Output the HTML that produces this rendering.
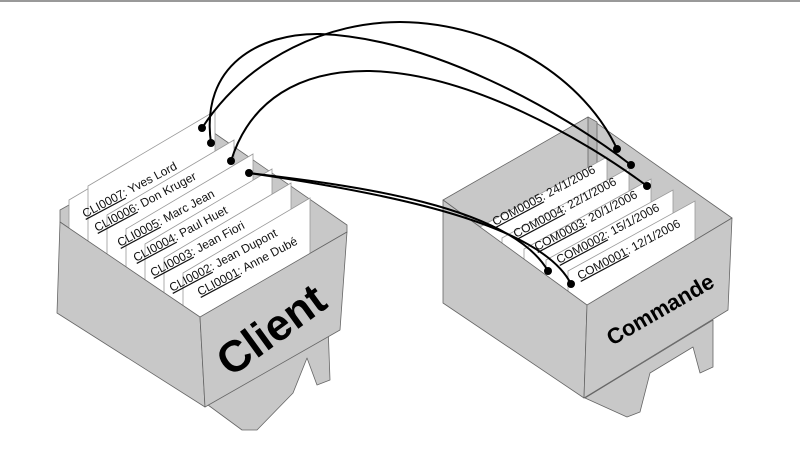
<!DOCTYPE html>
<html><head><meta charset="utf-8"><style>
html,body{margin:0;padding:0;background:#fff;width:800px;height:466px;overflow:hidden}
svg{display:block}
.t{font-family:"Liberation Sans",sans-serif;font-size:12px;fill:#111}
.u{text-decoration:underline}
</style></head><body>
<svg width="800" height="466" viewBox="0 0 800 466" xmlns="http://www.w3.org/2000/svg">
<line x1="0" y1="1" x2="800" y2="1" stroke="#999" stroke-width="2"/>
<g stroke="#666" stroke-width="0.8" stroke-linejoin="round">
<polygon points="208,405 242,430 257,430 293,393 307,358 317,385 330,380 328,325" fill="#c8c8c8"/>
<polygon points="60,222 60,210 207,128 347,225 347,232 200,317" fill="#c8c8c8"/>
</g>
<g stroke="#999" stroke-width="0.8" fill="#fff">
<polygon points="69,200 196,125 196,240 69,315"/>
<polygon points="88,186 215,111 215,250 88,330"/>
<polygon points="107,215 234,140 234,300 107,340"/>
<polygon points="126,229 253,154 253,300 126,340"/>
<polygon points="145,244 272,169 272,310 145,350"/>
<polygon points="164,258 291,183 291,320 164,360"/>
<polygon points="183,273 310,198 310,320 183,360"/>
</g>
<g class="t">
<text transform="translate(85,218) rotate(-28)"><tspan class="u">CLI0007</tspan>: Yves Lord</text>
<text transform="translate(97,232) rotate(-28)"><tspan class="u">CLI0006</tspan>: Don Kruger</text>
<text transform="translate(120,247) rotate(-28)"><tspan class="u">CLI0005</tspan>: Marc Jean</text>
<text transform="translate(136,262) rotate(-28)"><tspan class="u">CLI0004</tspan>: Paul Huet</text>
<text transform="translate(153,277) rotate(-28)"><tspan class="u">CLI0003</tspan>: Jean Fiori</text>
<text transform="translate(172,292) rotate(-28)"><tspan class="u">CLI0002</tspan>: Jean Dupont</text>
<text transform="translate(200,296) rotate(-28)"><tspan class="u">CLI0001</tspan>: Anne Dubé</text>
</g>
<g stroke="#666" stroke-width="0.8" fill="#c8c8c8" stroke-linejoin="round">
<polygon points="60,222 200,317 205,407 57,313"/>
<polygon points="200,317 347,232 340,330 205,407"/>
</g>
<text transform="translate(280,342) rotate(-36)" text-anchor="middle" font-family="Liberation Sans,sans-serif" font-weight="bold" font-size="44" fill="#000">Client</text>

<g stroke="#666" stroke-width="0.8" stroke-linejoin="round">
<polygon points="585,398 627,417 640,412 650,373 693,347 700,373 713,367 713,320" fill="#c8c8c8"/>
<polygon points="443,200 588,117 732,218 587,305" fill="#c8c8c8"/>
<polygon points="588,117 597,122 597,190 588,200" fill="#b8b8b8"/>
</g>
<g stroke="#999" stroke-width="0.8" fill="#fff">
<polygon points="480,227 607,157 607,240 480,310"/>
<polygon points="502,238 629,168 629,250 502,320"/>
<polygon points="524,249 651,179 651,260 524,330"/>
<polygon points="546,260 673,190 673,270 546,340"/>
<polygon points="568,271 695,201 695,280 568,350"/>
</g>
<g class="t">
<text transform="translate(495,226) rotate(-28)"><tspan class="u">COM0005</tspan>: 24/1/2006</text>
<text transform="translate(516,238) rotate(-28)"><tspan class="u">COM0004</tspan>: 22/1/2006</text>
<text transform="translate(537,251) rotate(-28)"><tspan class="u">COM0003</tspan>: 20/1/2006</text>
<text transform="translate(559,264) rotate(-28)"><tspan class="u">COM0002</tspan>: 15/1/2006</text>
<text transform="translate(580,280) rotate(-28)"><tspan class="u">COM0001</tspan>: 12/1/2006</text>
</g>
<g stroke="#666" stroke-width="0.8" fill="#c8c8c8" stroke-linejoin="round">
<polygon points="443,200 587,305 584,398 443,303"/>
<polygon points="587,305 732,218 728,310 584,398"/>
</g>
<text transform="translate(664,316) rotate(-30)" text-anchor="middle" font-family="Liberation Sans,sans-serif" font-weight="bold" font-size="22" fill="#000">Commande</text>

<g fill="none" stroke="#000" stroke-width="2">
<path d="M202,128 C250,55 330,22 400,22 C500,23 585,80 617,149"/>
<path d="M211,143 C200,65 260,33 320,34 C430,38 560,110 631,165"/>
<path d="M231,161 C250,100 300,70 370,71 C470,73 585,140 647,186"/>
<path d="M249,173 C350,185 510,205 548,271"/>
<path d="M249,173 C380,192 540,222 571,284"/>
</g>
<g fill="#000">
<circle cx="202" cy="128" r="4"/><circle cx="211" cy="143" r="4"/>
<circle cx="231" cy="161" r="4"/><circle cx="249" cy="173" r="4"/>
<circle cx="617" cy="149" r="4"/><circle cx="631" cy="165" r="4"/>
<circle cx="647" cy="186" r="4"/><circle cx="548" cy="271" r="4"/>
<circle cx="571" cy="284" r="4"/>
</g>
</svg>
</body></html>
